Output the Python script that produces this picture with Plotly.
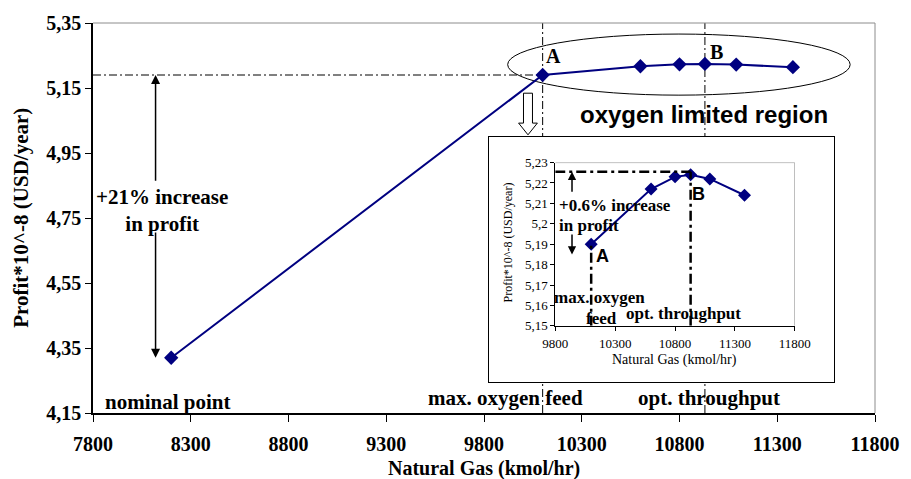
import plotly.graph_objects as go

# ---------------- data ----------------
gas = [8200, 10100, 10600, 10800, 10930, 11090, 11380]          # kmol/hr
profit = [4.320, 5.190, 5.217, 5.223, 5.224, 5.222, 5.214]      # *10^-8 USD/year

inset_gas = gas[1:]
inset_profit = profit[1:]

x_tick_vals = [7800, 8300, 8800, 9300, 9800, 10300, 10800, 11300, 11800]
x_tick_text = ["7800", "8300", "8800", "9300", "9800", "10300", "10800", "11300", "11800"]
y_tick_vals = [4.15, 4.35, 4.55, 4.75, 4.95, 5.15, 5.35]
y_tick_text = ["4,15", "4,35", "4,55", "4,75", "4,95", "5,15", "5,35"]

inset_x_tick_vals = [9800, 10300, 10800, 11300, 11800]
inset_x_tick_text = ["9800", "10300", "10800", "11300", "11800"]
inset_y_tick_vals = [5.15, 5.16, 5.17, 5.18, 5.19, 5.20, 5.21, 5.22, 5.23]
inset_y_tick_text = ["5,15", "5,16", "5,17", "5,18", "5,19", "5,2", "5,21", "5,22", "5,23"]

max_oxygen_gas = gas[1]
max_oxygen_profit = profit[1]
opt_gas = gas[4]
inset_opt_level = 5.2255

# ---------------- styles ----------------
NAVY = "#000080"
SERIF = "Liberation Serif"
SANS = "Liberation Sans"

fig = go.Figure()

fig.add_trace(go.Scatter(
    x=gas, y=profit, mode="lines+markers",
    line=dict(color=NAVY, width=2),
    marker=dict(symbol="diamond", size=11, color=NAVY),
    xaxis="x", yaxis="y", showlegend=False, hoverinfo="x+y"))

# white framed box behind the inset
fig.add_trace(go.Scatter(x=[], y=[], xaxis="x2", yaxis="y2", showlegend=False))

fig.add_trace(go.Scatter(
    x=inset_gas, y=inset_profit, mode="lines+markers",
    line=dict(color=NAVY, width=2),
    marker=dict(symbol="diamond", size=10, color=NAVY),
    xaxis="x3", yaxis="y3", showlegend=False, hoverinfo="x+y"))

main_tickfont = dict(family=SERIF, size=20, color="black", weight="bold")
inset_tickfont = dict(family=SERIF, size=13, color="black")

fig.update_layout(
    width=911, height=479,
    margin=dict(l=93, r=28, t=19, b=66),
    paper_bgcolor="white", plot_bgcolor="white",
    showlegend=False,
    xaxis=dict(domain=[0, 1], range=[7800, 11800], tickvals=x_tick_vals, ticktext=x_tick_text,
               tickfont=main_tickfont, ticks="outside", ticklen=7, tickcolor="black",
               showline=True, linecolor="black", linewidth=1.5, showgrid=False, zeroline=False,
               ticklabelstandoff=5, anchor="y"),
    yaxis=dict(domain=[0, 1], range=[4.15, 5.35], tickvals=y_tick_vals, ticktext=y_tick_text,
               tickfont=main_tickfont, ticks="outside", ticklen=6, tickcolor="black",
               showline=True, linecolor="black", linewidth=1.5, showgrid=False, zeroline=False,
               anchor="x"),
    xaxis2=dict(domain=[0.5063, 0.9481], range=[0, 1], anchor="y2", showline=True, mirror=True,
                linecolor="black", linewidth=1, showticklabels=False, ticks="", showgrid=False,
                zeroline=False, fixedrange=True),
    yaxis2=dict(domain=[0.0787, 0.7081], range=[0, 1], anchor="x2", showline=True, mirror=True,
                linecolor="black", linewidth=1, showticklabels=False, ticks="", showgrid=False,
                zeroline=False, fixedrange=True),
    xaxis3=dict(domain=[0.5911, 0.8975], range=[9800, 11800], anchor="y3",
                tickvals=inset_x_tick_vals, ticktext=inset_x_tick_text, tickfont=inset_tickfont,
                ticks="outside", ticklen=4, tickcolor="black", showline=True, linecolor="black",
                linewidth=1, showgrid=False, zeroline=False, ticklabelstandoff=2),
    yaxis3=dict(domain=[0.2234, 0.6421], range=[5.15, 5.23], anchor="x3",
                tickvals=inset_y_tick_vals, ticktext=inset_y_tick_text, tickfont=inset_tickfont,
                ticks="outside", ticklen=4, tickcolor="black", showline=True, linecolor="black",
                linewidth=1, showgrid=False, zeroline=False),
)

shapes = []
# main plot frame (top/right, gray)
shapes.append(dict(type="line", xref="paper", yref="paper", x0=0, x1=1, y0=1, y1=1,
                   line=dict(color="#8c8c8c", width=1), layer="above"))
shapes.append(dict(type="line", xref="paper", yref="paper", x0=1, x1=1, y0=0, y1=1,
                   line=dict(color="#8c8c8c", width=1), layer="above"))
# main dash-dot guide lines
dd = dict(color="black", width=1, dash="8px,3px,2px,3px")
shapes.append(dict(type="line", xref="x", yref="y", x0=7800, x1=max_oxygen_gas,
                   y0=max_oxygen_profit, y1=max_oxygen_profit, line=dd, layer="below"))
shapes.append(dict(type="line", xref="x", yref="y", x0=max_oxygen_gas, x1=max_oxygen_gas,
                   y0=4.15, y1=5.35, line=dd, layer="below"))
shapes.append(dict(type="line", xref="x", yref="y", x0=opt_gas, x1=opt_gas,
                   y0=4.15, y1=5.35, line=dd, layer="below"))
# ellipse around the oxygen limited region
shapes.append(dict(type="circle", xref="x", yref="y", x0=9921, x1=11673, y0=5.128, y1=5.316,
                   line=dict(color="black", width=1), layer="below"))
# hollow block arrow pointing to the inset
ax_c, sh, hh = 10025, 23, 48
y_top, y_base, y_tip = 5.134, 5.042, 5.006
arrow_path = (f"M{ax_c - sh},{y_top} L{ax_c + sh},{y_top} L{ax_c + sh},{y_base} "
              f"L{ax_c + hh},{y_base} L{ax_c},{y_tip} L{ax_c - hh},{y_base} "
              f"L{ax_c - sh},{y_base} Z")
shapes.append(dict(type="path", xref="x", yref="y", path=arrow_path,
                   line=dict(color="black", width=1), fillcolor="white", layer="below"))
# inset frame (top/right gray)
shapes.append(dict(type="line", xref="x3", yref="y3", x0=9800, x1=11800, y0=5.23, y1=5.23,
                   line=dict(color="#8c8c8c", width=1), layer="above"))
shapes.append(dict(type="line", xref="x3", yref="y3", x0=11800, x1=11800, y0=5.15, y1=5.23,
                   line=dict(color="#8c8c8c", width=1), layer="above"))
# inset dash-dot lines
idd = dict(color="black", width=2.5, dash="10px,4px,3px,4px")
shapes.append(dict(type="line", xref="x3", yref="y3", x0=9800, x1=opt_gas,
                   y0=inset_opt_level, y1=inset_opt_level, line=idd, layer="above"))
shapes.append(dict(type="line", xref="x3", yref="y3", x0=opt_gas, x1=opt_gas,
                   y0=5.15, y1=inset_opt_level, line=idd, layer="above"))
shapes.append(dict(type="line", xref="x3", yref="y3", x0=max_oxygen_gas, x1=max_oxygen_gas,
                   y0=5.15, y1=max_oxygen_profit, line=idd, layer="above"))
fig.update_layout(shapes=shapes)

bold_serif = lambda s: dict(family=SERIF, size=s, color="black", weight="bold")
bold_sans = lambda s: dict(family=SANS, size=s, color="black", weight="bold")

ann = []
def txt(text, x, y, font, xref="x", yref="y", xanchor="center", **kw):
    ann.append(dict(text=text, x=x, y=y, xref=xref, yref=yref, showarrow=False,
                    xanchor=xanchor, yanchor="middle", font=font, **kw))

def arrow(x, y, ax, ay, xref="x", yref="y", size=1.2, width=1.5):
    ann.append(dict(text="", x=x, y=y, ax=ax, ay=ay, xref=xref, yref=yref,
                    axref=xref, ayref=yref, showarrow=True, arrowhead=2,
                    arrowsize=size, arrowwidth=width, arrowcolor="black"))

# axis titles
txt("Profit*10^-8 (USD/year)", -0.0924, 0.5, bold_serif(21), xref="paper", yref="paper",
    textangle=-90)
txt("Natural Gas (kmol/hr)", 0.5, -0.143, bold_serif(20), xref="paper", yref="paper")

# main annotations
txt("+21% increase<br>in profit", 8154, 4.774, bold_serif(21))
arrow(8120, max_oxygen_profit, 8120, 4.86)
arrow(8120, profit[0], 8120, 4.71)
txt("nominal point", 7850, 4.183, bold_serif(21), xanchor="left")
txt("max. oxygen feed", 9911, 4.196, bold_serif(21))
txt("opt. throughput", 10949, 4.196, bold_serif(21))
txt("A", 10154, 5.2495, bold_serif(20))
txt("B", 10990, 5.262, bold_serif(20))
txt("oxygen limited region", 10924, 5.067, bold_sans(24))

# inset annotations
txt("Profit*10^-8 (USD/year)", 0.5304, 0.4365, dict(family=SERIF, size=12, color="black"),
    xref="paper", yref="paper", textangle=-90)
txt("Natural Gas (kmol/hr)", 0.743, 0.137, dict(family=SERIF, size=14, color="black"),
    xref="paper", yref="paper")
txt("+0.6% increase", 9817, 5.209, bold_serif(17), xref="x3", yref="y3", xanchor="left")
txt("in profit", 9817, 5.199, bold_serif(17), xref="x3", yref="y3", xanchor="left")
arrow(9940, inset_opt_level, 9940, 5.215, xref="x3", yref="y3", size=1.1, width=1.5)
arrow(9940, 5.185, 9940, 5.1955, xref="x3", yref="y3", size=1.1, width=1.5)
txt("A", 10197, 5.184, bold_sans(18), xref="x3", yref="y3")
txt("B", 10998, 5.2145, bold_sans(18), xref="x3", yref="y3")
txt("max. oxygen", 10168, 5.164, bold_serif(17), xref="x3", yref="y3")
txt("feed", 10182, 5.1538, bold_serif(17), xref="x3", yref="y3")
txt("opt. throughput", 10872, 5.156, bold_serif(17), xref="x3", yref="y3")

fig.update_layout(annotations=ann)

fig.write_html("out.html", config={"displayModeBar": False},
               post_script="document.body.style.margin='0';document.body.style.padding='0';")
